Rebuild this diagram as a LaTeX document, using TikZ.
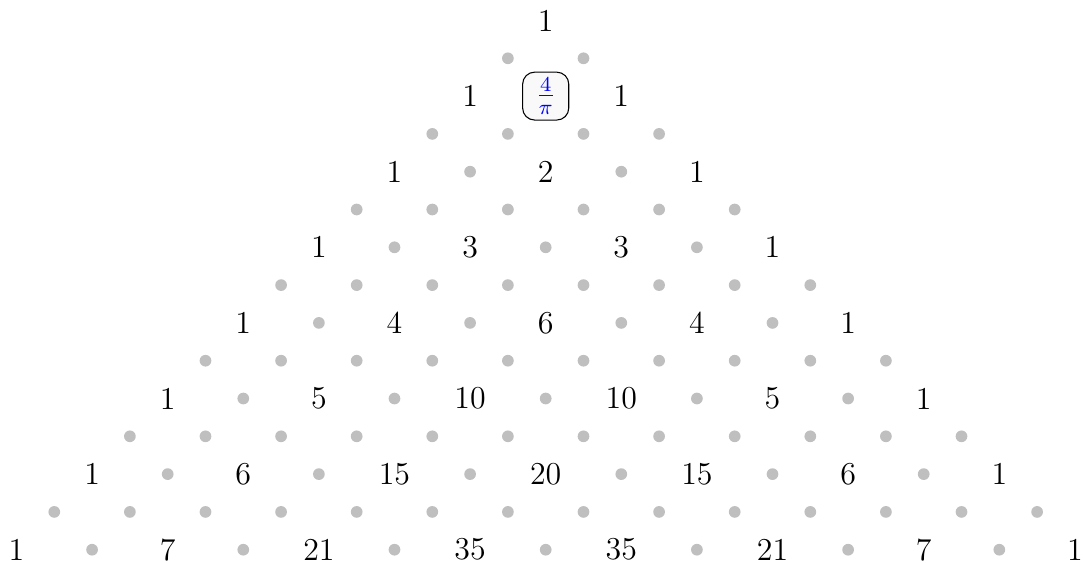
\documentclass[tikz,border=0pt]{standalone}
\begin{document}
\begin{tikzpicture}[x=1cm,y=1cm,
  every node/.style={font=\large},
  num/.style={inner sep=0pt},
  dotmark/.style={circle,inner sep=0pt,minimum size=0.155cm,fill=gray!50,draw=none},
  fracbox/.style={draw=black,rounded corners=4.5pt,fill=gray!5,minimum width=0.61cm,minimum height=0.61cm,inner sep=2pt,text=blue}]
\useasboundingbox (-7.218,0.271) rectangle (7.107,-7.163);
% numbers
\foreach \n/\vals in {0/{1},1/{1,1},2/{1,2,1},3/{1,3,3,1},4/{1,4,6,4,1},5/{1,5,10,10,5,1},6/{1,6,15,20,15,6,1},7/{1,7,21,35,35,21,7,1}}{
  \foreach \v [count=\k from 0] in \vals {
    \node[num] (n-\n-\k) at ({2*\k-\n},{-\n}) {\v};
  }
}
% in-row dots
\foreach \n in {2,...,7}{
  \pgfmathtruncatemacro{\last}{\n-1}
  \foreach \k in {0,...,\last}{
    \node[dotmark] (r-\n-\k) at ({2*\k-\n+1},{-\n}) {};
  }
}
% box
\node[fracbox] (box) at (0,-1) {$\frac{4}{\pi}$};
% between-row dots
\foreach \n in {0,...,6}{
  \pgfmathtruncatemacro{\last}{2*\n+1}
  \foreach \j in {0,...,\last}{
    \node[dotmark] (b-\n-\j) at ({\j-\n-0.5},{-\n-0.5}) {};
  }
}
\end{tikzpicture}
\end{document}
